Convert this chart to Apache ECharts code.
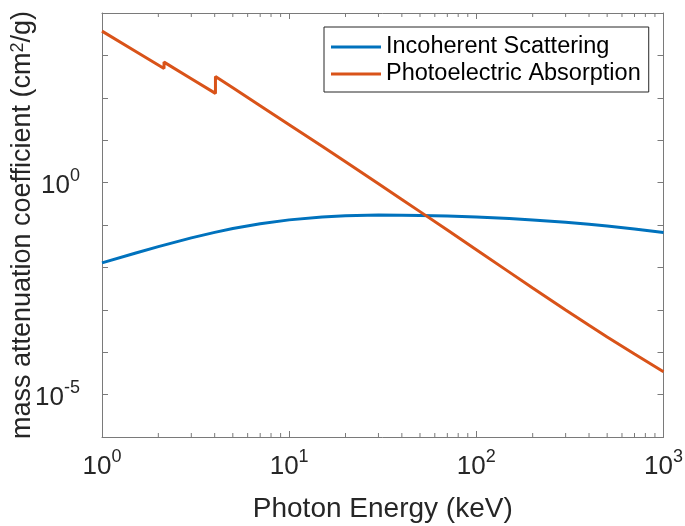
<!DOCTYPE html>
<html>
<head>
<meta charset="utf-8">
<script src="https://cdn.jsdelivr.net/npm/echarts@6/dist/echarts.min.js"></script>
<style>html,body{margin:0;padding:0;background:#fff;}#c{width:685px;height:526px;}</style>
</head>
<body>
<div id="c"></div>
<script>
// ---- data ----
const energyPE = [1, 1.5, 2.145, 2.145, 3, 4.038, 4.038, 5, 7, 10, 15, 20, 30, 40, 50, 70, 100, 150, 200, 300, 400, 500, 700, 1000];
const photoelectric = [3740, 1270, 490, 695, 282, 127, 316, 171.6, 65.35, 23.28, 7.155, 3.087, 0.9376, 0.4006, 0.2067, 0.07597, 0.02612, 0.007738, 0.003266, 0.0009851, 0.00043, 0.000229, 9.04e-5, 3.46e-5];
const energyIS = [1, 1.5, 2, 3, 4, 5, 7, 10, 15, 20, 30, 40, 50, 70, 100, 150, 200, 300, 400, 500, 700, 1000];
const incoherent = [0.0128, 0.02158, 0.0309, 0.0496, 0.0671, 0.0824, 0.1068, 0.1321, 0.1550, 0.1653, 0.1713, 0.1705, 0.1683, 0.1622, 0.1538, 0.1416, 0.1314, 0.1155, 0.1037, 0.0944, 0.0806, 0.0667];
const minorXTicks = [2,3,4,5,6,7,8,9,20,30,40,50,60,70,80,90,200,300,400,500,600,700,800,900];
const yLabelExponents = [0, -5];
const seriesNames = ['Incoherent Scattering', 'Photoelectric Absorption'];

const FONT = "'Liberation Sans', Arial, Helvetica, sans-serif";
const AX = '#7a7a7a';
const TXT = '#262626';
const X_MIN = 1, X_MAX = 1000, Y_MIN = 1e-6, Y_MAX = 1e4;

const rich = {
  b: {fontSize: 26, fontFamily: FONT, color: TXT, lineHeight: 32, verticalAlign: 'bottom'},
  s: {fontSize: 18, fontFamily: FONT, color: TXT, lineHeight: 18, verticalAlign: 'top'}
};
function expOf(v){ return Math.round(Math.log10(v)); }

const chart = echarts.init(document.getElementById('c'), null, {renderer: 'canvas'});
const baseAxis = (extra) => Object.assign({
  type: 'log', logBase: 10, interval: 1,
  axisLine: {show: true, onZero: false, lineStyle: {color: AX, width: 1}},
  axisTick: {show: true, inside: true, length: 6, lineStyle: {color: AX, width: 1}},
  splitLine: {show: false},
  minorTick: {show: false}
}, extra);

chart.setOption({
  animation: false,
  backgroundColor: '#fff',
  grid: {left: 102, right: 21.5, top: 13, bottom: 89, containLabel: false, outerBoundsMode: 'none'},
  legend: {
    data: seriesNames,
    orient: 'vertical',
    left: 324, top: 27,
    padding: [8, 8, 6, 7],
    itemWidth: 50, itemHeight: 3, itemGap: 3, itemTextGap: 6,
    icon: 'rect',
    borderColor: '#262626', borderWidth: 1, backgroundColor: '#fff',
    textStyle: {fontSize: 23.5, fontFamily: FONT, color: '#000', lineHeight: 24}
  },
  xAxis: [
    baseAxis({
      min: X_MIN, max: X_MAX, position: 'bottom',
      name: 'Photon Energy (keV)', nameLocation: 'middle', nameGap: 58, nameMoveOverlap: false,
      nameTextStyle: {fontSize: 28, fontFamily: FONT, color: TXT},
      axisLabel: {show: true, margin: 11, formatter: v => '{b|10}{s|' + expOf(v) + '}', rich: rich}
    }),
    baseAxis({min: X_MIN, max: X_MAX, position: 'top', axisLabel: {show: false}})
  ],
  yAxis: [
    baseAxis({
      min: Y_MIN, max: Y_MAX, position: 'left',
      name: 'mass attenuation coefficient (cm{s|2}/g)', nameLocation: 'middle', nameGap: 66, nameMoveOverlap: false,
      nameTextStyle: {fontSize: 27, fontFamily: FONT, color: TXT,
        rich: {s: {fontSize: 18, fontFamily: FONT, color: TXT, verticalAlign: 'top', lineHeight: 20}}},
      axisLabel: {show: true, margin: 22, formatter: v => {
        const e = expOf(v);
        return yLabelExponents.indexOf(e) >= 0 ? '{b|10}{s|' + e + '}' : '';
      }, rich: rich}
    }),
    baseAxis({min: Y_MIN, max: Y_MAX, position: 'right', axisLabel: {show: false}})
  ],
  series: [
    {
      name: seriesNames[0], type: 'line', xAxisIndex: 0, yAxisIndex: 0,
      data: energyIS.map((e, i) => [e, incoherent[i]]),
      symbol: 'none', showSymbol: false, smooth: false,
      color: '#0072BD', lineStyle: {width: 3, color: '#0072BD'}
    },
    {
      name: seriesNames[1], type: 'line', xAxisIndex: 0, yAxisIndex: 0,
      data: energyPE.map((e, i) => [e, photoelectric[i]]),
      symbol: 'none', showSymbol: false, smooth: false,
      color: '#D95319', lineStyle: {width: 3, color: '#D95319'}
    },
    {
      name: 'minorTicks', type: 'custom', xAxisIndex: 0, yAxisIndex: 0, silent: true, clip: false,
      data: minorXTicks.map(v => [v, 1]),
      renderItem: function (params, api) {
        const v = api.value(0);
        const b = api.coord([v, Y_MIN]);
        const t = api.coord([v, Y_MAX]);
        const st = {stroke: AX, lineWidth: 1};
        return {type: 'group', children: [
          {type: 'line', shape: {x1: b[0], y1: b[1], x2: b[0], y2: b[1] - 4}, style: st},
          {type: 'line', shape: {x1: t[0], y1: t[1], x2: t[0], y2: t[1] + 4}, style: st}
        ]};
      }
    }
  ]
});
</script>
</body>
</html>
